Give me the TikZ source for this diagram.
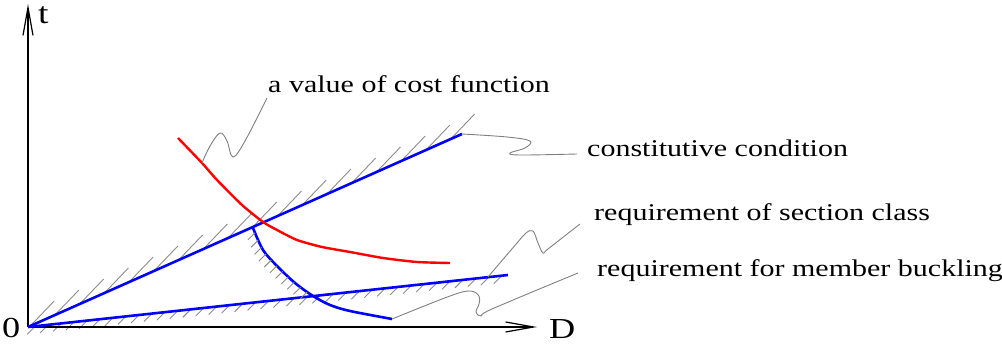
\documentclass[tikz,border=0pt]{standalone}
\usepackage{fontspec}
\usepackage{graphicx}
\setmainfont{Liberation Serif}
\usetikzlibrary{arrows.meta,calc,decorations.markings}
\newcommand\hstretchtxt[1]{\scalebox{1.25}[1]{#1}}
\begin{document}
\begin{tikzpicture}[x=1pt,y=-1pt,
  axis/.style={line width=1.2pt,-{Straight Barb[length=28pt,width=10pt,line width=1.2pt]}},
  bluel/.style={draw={rgb,255:red,0;green,0;blue,255},line width=2.6pt},
  redl/.style={draw={rgb,255:red,255;green,0;blue,0},line width=2.4pt},
  leader/.style={draw={rgb,255:red,128;green,128;blue,128},line width=0.9pt},
  hatch/.style={draw={rgb,255:red,140;green,140;blue,140},line width=0.9pt},
  lbl/.style={inner sep=0pt,anchor=base west,font=\fontsize{24}{28}\selectfont},
  axlbl/.style={inner sep=0pt,anchor=base west}]
\useasboundingbox (0,0) rectangle (1002,344);

% key points
\coordinate (O) at (28,327);
\coordinate (Ytip) at (28,4);
\coordinate (Xtip) at (537,327);
\coordinate (A) at (462,134);
\coordinate (B) at (508,275);
\coordinate (C0) at (253,228);
\coordinate (C1) at (392,319);
\coordinate (R0) at (178,138);
\coordinate (R1) at (450,263);
\coordinate (Rl) at (202,163);
\coordinate (Sl) at (488,277);

% hatching along upper line
\foreach \t in {0.005,0.062,...,0.98}
  \draw[hatch] ($(O)!\t!(A)$) -- ++(24,-25);
% hatching below lower line
\foreach \t in {0.015,0.042,...,0.99}
  \draw[hatch] ($(O)!\t!(B)$) -- ++(-8,8);

% axes
\draw[axis] (O) -- (Ytip);
\draw[axis] (O) -- (Xtip);

% blue lines
\draw[bluel] (O) -- (A);
\draw[bluel] (O) -- (B);
% blue curve with hatching on its left side
\draw[bluel,postaction={decorate},
  decoration={markings,
    mark=between positions 0.03 and 0.5 step 8pt with {
      \pgftransformresetnontranslations
      \draw[hatch] (0pt,0pt) -- (-7pt,-7pt);}}]
  plot[smooth,tension=0.5] coordinates {(C0) (263,250) (277,266) (295,283) (313,296) (330,305) (350,311) (C1)};

% red curve
\draw[redl] plot[smooth,tension=0.4] coordinates {(R0) (Rl) (217,180) (242,205) (263,222) (277,230) (297,240) (322,247) (350,252) (383,258) (417,262) (R1)};

% labels
\node[axlbl,font=\fontsize{30}{34}\selectfont] (t) at (38,24) {\hstretchtxt{t}};
\node[axlbl,font=\fontsize{29}{32}\selectfont] (zero) at (2,338) {\hstretchtxt{0}};
\node[axlbl,font=\fontsize{29}{32}\selectfont] (D) at (549,339) {\hstretchtxt{D}};
\node[lbl] (cost) at (268,93) {\hstretchtxt{a value of cost function}};
\node[lbl] (cons) at (587,157) {\hstretchtxt{constitutive condition}};
\node[lbl] (sec) at (594,221) {\hstretchtxt{requirement of section class}};
\node[lbl] (buck) at (597,277) {\hstretchtxt{requirement for member buckling}};

% leaders
\coordinate (Lcost) at (267,98);
\coordinate (Lcons) at (577,154);
\coordinate (Lsec) at (580,224);
\coordinate (Lbuck) at (578,273);
\draw[leader] plot[smooth,tension=0.6] coordinates {(Rl) (210,146) (220,133) (227,141) (233,157) (245,141) (Lcost)};
\draw[leader] plot[smooth,tension=0.6] coordinates {(A) (507,137) (530,141) (525,148) (510,153) (520,155) (Lcons)};
\draw[leader] plot[smooth,tension=0.6] coordinates {(Lsec) (548,249) (543,253) (538,243) (533,231) (526,233) (517,243) (Sl)};
\draw[leader] plot[smooth,tension=0.6] coordinates {(C1) (450,296) (470,291) (479,296) (479,304) (476,312) (481,316) (492,309) (Lbuck)};
\end{tikzpicture}
\end{document}
